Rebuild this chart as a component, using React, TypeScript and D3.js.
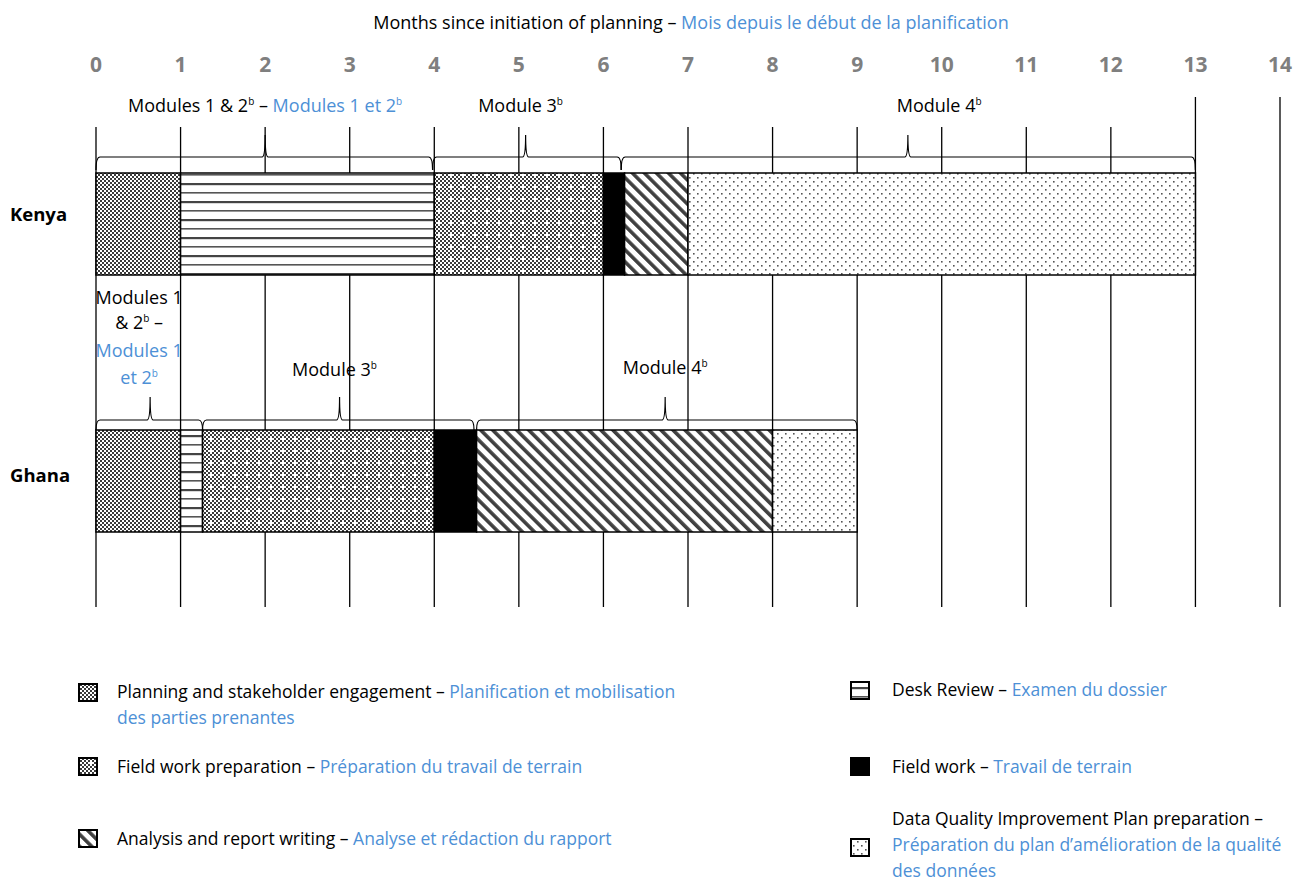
import React from "react";
import * as d3 from "d3";

// months on the top axis
const monthTicks = [0, 1, 2, 3, 4, 5, 6, 7, 8, 9, 10, 11, 12, 13, 14];

// phase ids
const phaseIds = ["planning", "desk", "prep", "field", "analysis", "dqip"];

// Kenya timeline (months)
const kenyaStarts = [0, 1, 4, 6, 6.25, 7];
const kenyaEnds = [1, 4, 6, 6.25, 7, 13];

// Ghana timeline (months)
const ghanaStarts = [0, 1, 1.26, 4, 4.5, 8];
const ghanaEnds = [1, 1.26, 4, 4.5, 8, 9];

// module braces: start, end, tip position
const kenyaModules = [
  { start: 0, end: 3.98, tip: 2 },
  { start: 3.98, end: 6.21, tip: 5.08 },
  { start: 6.21, end: 13, tip: 9.6 },
];
const ghanaModules = [
  { start: 0, end: 1.26, tip: 0.64 },
  { start: 1.26, end: 4.47, tip: 2.88 },
  { start: 4.5, end: 9, tip: 6.73 },
];

const BLUE = "#4d90d6";
const FONT = "'Open Sans', 'Noto Sans', sans-serif";

const fillFor: Record<string, string> = {
  planning: "url(#pChecker)",
  desk: "url(#pDesk)",
  prep: "url(#pPrep)",
  field: "#000",
  analysis: "url(#pDiag)",
  dqip: "url(#pDots)",
};

const x = d3.scaleLinear().domain([0, 14]).range([96, 1280]);

function bracePath(x1: number, x2: number, tip: number, yH: number, yEnd: number, yTip: number) {
  const p = d3.path();
  p.moveTo(x1, yEnd);
  p.quadraticCurveTo(x1, yH, x1 + 4, yH);
  p.lineTo(tip - 3, yH);
  p.quadraticCurveTo(tip, yH, tip, yTip);
  p.quadraticCurveTo(tip, yH, tip + 3, yH);
  p.lineTo(x2 - 4, yH);
  p.quadraticCurveTo(x2, yH, x2, yEnd);
  return p.toString();
}

const Sup = () => (
  <tspan fontSize={10} baselineShift="70%">b</tspan>
);

function Row({ starts, ends, y0, y1 }: { starts: number[]; ends: number[]; y0: number; y1: number }) {
  return (
    <g>
      {phaseIds.map((id, i) => (
        <rect
          key={id}
          x={x(starts[i])}
          y={y0}
          width={x(ends[i]) - x(starts[i])}
          height={y1 - y0}
          fill={fillFor[id]}
          stroke="#000"
          strokeWidth={1.5}
        />
      ))}
    </g>
  );
}

function Braces({ mods, yH, yEnd, yTip }: { mods: typeof kenyaModules; yH: number; yEnd: number; yTip: number }) {
  return (
    <g fill="none" stroke="#000" strokeWidth={1.2}>
      {mods.map((m, i) => (
        <path key={i} d={bracePath(x(m.start), x(m.end), x(m.tip), yH, yEnd, yTip)} />
      ))}
    </g>
  );
}

const legendLeft = [
  { id: "planning", en: "Planning and stakeholder engagement – ", fr: ["Planification et mobilisation", "des parties prenantes"], y: 698, box: 684 },
  { id: "prep", en: "Field work preparation – ", fr: ["Préparation du travail de terrain"], y: 773, box: 758 },
  { id: "analysis", en: "Analysis and report writing – ", fr: ["Analyse et rédaction du rapport"], y: 845, box: 830 },
];
const legendRight = [
  { id: "desk", en: "Desk Review – ", fr: "Examen du dossier", y: 696, box: 682 },
  { id: "field", en: "Field work – ", fr: "Travail de terrain", y: 773, box: 758 },
];

export default function App() {
  const ghLabelX = x(0.51);
  return (
    <div style={{ position: "absolute", left: 0, top: 0 }}>
      <svg width={1293} height={884} style={{ display: "block", background: "#fff" }} fontFamily={FONT}>
        <defs>
          <pattern id="pChecker" patternUnits="userSpaceOnUse" width={4} height={4}>
            <rect width={4} height={4} fill="#fff" />
            <rect width={2} height={2} fill="#3a3a3a" />
            <rect x={2} y={2} width={2} height={2} fill="#3a3a3a" />
          </pattern>
          <pattern id="pPrep" patternUnits="userSpaceOnUse" width={12} height={12}>
            <rect width={12} height={12} fill="#fff" />
            {[0, 4, 8].map((a) =>
              [0, 4, 8].map((b) => (
                <g key={`${a}-${b}`}>
                  <rect x={a} y={b} width={2} height={2} fill="#3a3a3a" />
                  <rect x={a + 2} y={b + 2} width={2} height={2} fill="#3a3a3a" />
                </g>
              ))
            )}
            <rect x={6} y={6} width={2} height={2} fill="#fff" />
            <rect x={0} y={6} width={2} height={2} fill="#fff" />
          </pattern>
          <pattern id="pDesk" patternUnits="userSpaceOnUse" width={10} height={18}>
            <rect width={10} height={18} fill="#fff" />
            <rect y={3} width={10} height={2.2} fill="#444" />
            <rect y={12} width={10} height={1.6} fill="#555" />
          </pattern>
          <pattern id="pDiag" patternUnits="userSpaceOnUse" width={8.5} height={8.5} patternTransform="rotate(-45)">
            <rect width={8.5} height={8.5} fill="#fff" />
            <rect width={3.6} height={8.5} fill="#404040" />
          </pattern>
          <pattern id="pDots" patternUnits="userSpaceOnUse" width={8} height={8}>
            <rect width={8} height={8} fill="#fff" />
            <rect x={1} y={1} width={1.6} height={1.6} fill="#555" />
            <rect x={5} y={5} width={1.6} height={1.6} fill="#555" />
          </pattern>
        </defs>

        {/* axis title */}
        <text x={691} y={29} textAnchor="middle" fontSize={18}>
          Months since initiation of planning – <tspan fill={BLUE}>Mois depuis le début de la planification</tspan>
        </text>

        {/* tick labels */}
        {monthTicks.map((m) => (
          <text key={m} x={x(m)} y={72} textAnchor="middle" fontSize={21} fontWeight="bold" fill="#7f7f7f">
            {m}
          </text>
        ))}

        {/* grid lines */}
        {monthTicks.map((m) => (
          <line key={m} x1={x(m)} x2={x(m)} y1={m >= 13 ? 97 : 127} y2={607} stroke="#000" strokeWidth={1.3} />
        ))}

        {/* Kenya module labels */}
        <g fontSize={18} textAnchor="middle">
          <text x={x(2)} y={112}>
            Modules 1 &amp; 2<Sup /> – <tspan fill={BLUE}>Modules 1 et 2<Sup /></tspan>
          </text>
          <text x={x(5.02)} y={112}>
            Module 3<Sup />
          </text>
          <text x={x(9.97)} y={112}>
            Module 4<Sup />
          </text>
        </g>
        <Braces mods={kenyaModules} yH={157} yEnd={170} yTip={135} />

        <Row starts={kenyaStarts} ends={kenyaEnds} y0={173} y1={275} />

        {/* Ghana module labels */}
        <g fontSize={18} textAnchor="middle">
          <text x={ghLabelX} y={304}>Modules 1</text>
          <text x={ghLabelX} y={329}>
            &amp; 2<Sup /> –
          </text>
          <text x={ghLabelX} y={357} fill={BLUE}>Modules 1</text>
          <text x={ghLabelX} y={384} fill={BLUE}>
            et 2<Sup />
          </text>
          <text x={x(2.82)} y={376}>
            Module 3<Sup />
          </text>
          <text x={x(6.73)} y={374}>
            Module 4<Sup />
          </text>
        </g>
        <Braces mods={ghanaModules} yH={420} yEnd={430} yTip={397} />

        <Row starts={ghanaStarts} ends={ghanaEnds} y0={430} y1={532} />

        {/* row labels */}
        <g fontSize={18.5} fontWeight="bold">
          <text x={10} y={221}>Kenya</text>
          <text x={10} y={482}>Ghana</text>
        </g>

        {/* legend */}
        <g fontSize={17.5}>
          {legendLeft.map((l) => (
            <g key={l.id}>
              <rect x={79} y={l.box} width={18} height={17} fill={fillFor[l.id]} stroke="#000" strokeWidth={2} />
              <text x={117} y={l.y}>
                {l.en}
                <tspan fill={BLUE}>{l.fr[0]}</tspan>
              </text>
              {l.fr[1] && (
                <text x={117} y={l.y + 26} fill={BLUE}>
                  {l.fr[1]}
                </text>
              )}
            </g>
          ))}
          {legendRight.map((l) => (
            <g key={l.id}>
              <rect x={851} y={l.box} width={18} height={17} fill={fillFor[l.id]} stroke="#000" strokeWidth={2} />
              <text x={892} y={l.y}>
                {l.en}
                <tspan fill={BLUE}>{l.fr}</tspan>
              </text>
            </g>
          ))}
          <rect x={851} y={839} width={18} height={17} fill={fillFor.dqip} stroke="#000" strokeWidth={2} />
          <text x={892} y={825}>Data Quality Improvement Plan preparation –</text>
          <text x={892} y={851} fill={BLUE}>Préparation du plan d’amélioration de la qualité</text>
          <text x={892} y={877} fill={BLUE}>des données</text>
        </g>
      </svg>
    </div>
  );
}
